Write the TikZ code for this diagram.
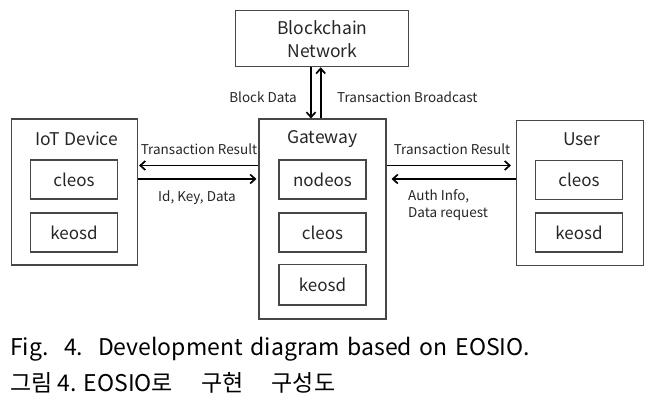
\documentclass[tikz,border=0pt]{standalone}
\usepackage{fontspec}
\setmainfont{Noto Sans CJK KR}
\newfontfamily\capfont{Noto Sans CJK KR}
\usetikzlibrary{arrows.meta}

\begin{document}
\begin{tikzpicture}[x=1pt, y=-1pt,
  box/.style={draw=black!72, line width=1.1pt, inner sep=0pt, text=black!85},
  sub/.style={box, minimum width=87pt, minimum height=39pt, font=\fontsize{17}{20}\selectfont},
  ttl/.style={font=\fontsize{17.5}{23}\selectfont, inner sep=0pt, text=black!85},
  lbl/.style={font=\fontsize{13.5}{16.6}\selectfont, inner sep=0pt, text=black!85},
  captxt/.style={anchor=west, inner sep=0pt, font=\capfont\fontsize{23}{27}\selectfont},
  flow/.style={black, line width=1.7pt, -{Straight Barb[length=5pt, width=9pt]}}]
  \useasboundingbox (0,0) rectangle (663,406);

  % blocks
  \node[box, ttl, minimum width=173pt, minimum height=56pt, align=center] (bc) at (322.4,38.7) {Blockchain\\Network};
  \node[box, minimum width=126pt, minimum height=146pt] (iot) at (74.5,192) {};
  \node[box, minimum width=127pt, minimum height=200pt] (gw) at (322.5,219) {};
  \node[box, minimum width=127pt, minimum height=145pt] (user) at (580,193) {};

  \node[ttl] (iottitle) at (76.7,139) {IoT Device};
  \node[ttl] (gwtitle) at (322.5,139) {Gateway};
  \node[ttl] (usertitle) at (581.7,139) {User};

  % programs inside each block
  \node[sub] (iotcleos) at (74,179.5) {cleos};
  \node[sub] (iotkeosd) at (74,232.5) {keosd};
  \node[sub] (gwnodeos) at (322.5,179.5) {nodeos};
  \node[sub] (gwcleos) at (322.5,232.5) {cleos};
  \node[sub, minimum height=40.5pt] (gwkeosd) at (322.5,284.7) {keosd};
  \node[sub] (usercleos) at (579,179.6) {cleos};
  \node[sub] (userkeosd) at (579,232.5) {keosd};

  % arrows
  \coordinate (uprow) at (0,165.5);
  \coordinate (lorow) at (0,179);
  \coordinate (dncol) at (311,0);
  \coordinate (upcol) at (320.7,0);
  \draw[flow] (bc.south -| dncol) -- (gw.north -| dncol);
  \draw[flow] (gw.north -| upcol) -- (bc.south -| upcol);
  \draw[flow, shorten >=1pt] (gw.west |- uprow) -- (iot.east |- uprow);
  \draw[flow, shorten >=2pt] (iot.east |- lorow) -- (gw.west |- lorow);
  \draw[flow, shorten >=5pt] (gw.east |- uprow) -- (user.west |- uprow);
  \draw[flow, shorten >=5pt] (user.west |- lorow) -- (gw.east |- lorow);

  \node[lbl] (bdata) at (263,97) {Block Data};
  \node[lbl, anchor=west] (txcast) at (337,97) {Transaction Broadcast};
  \node[lbl] (iotres) at (199,149) {Transaction Result};
  \node[lbl] (iotsend) at (197,198) {Id, Key, Data};
  \node[lbl] (userres) at (452,149) {Transaction Result};
  \node[lbl, anchor=west, align=left] (usersend) at (408,205) {Auth Info,\\Data request};

  % caption
  \node[captxt] (capen) at (10,349) {\hbox to 520pt{Fig.\ \ 4. Development diagram based on EOSIO.}};
  \node[captxt] (capko) at (10,383) {\hbox to 325pt{그림 4. EOSIO로\hfil\ 구현\hfil\ 구성도}};
\end{tikzpicture}
\end{document}
